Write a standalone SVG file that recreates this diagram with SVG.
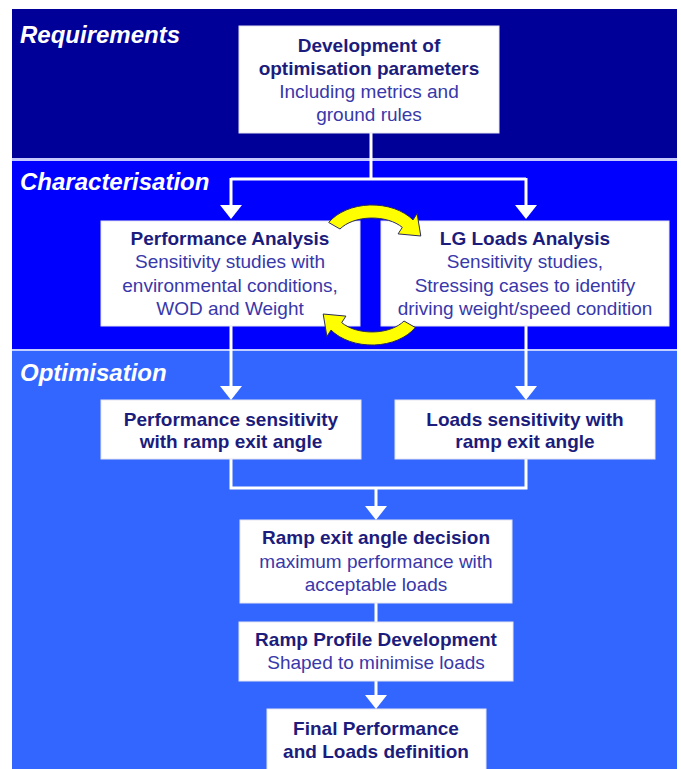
<svg xmlns="http://www.w3.org/2000/svg" width="681" height="769" viewBox="0 0 681 769">
<style>
.box{fill:#ffffff;stroke:#e4e4f0;stroke-width:1}
.t{font-family:"Liberation Sans",Arial,sans-serif;font-size:19px;text-anchor:middle}
.b{font-weight:bold;fill:#1c1c7c}
.r{fill:#3838aa}
.hd{font-family:"Liberation Sans",Arial,sans-serif;font-size:24px;font-weight:bold;font-style:italic;fill:#ffffff}
.ln{fill:none;stroke:#ffffff;stroke-width:3}
.ah{fill:#ffffff}
.yl{fill:#ffff00;stroke:#2a2a60;stroke-width:1}
</style>
<rect x="0" y="0" width="681" height="769" fill="#ffffff"/>
<g id="bands">
<rect x="12" y="9" width="665" height="149" fill="#000099"/>
<rect x="12" y="158" width="665" height="3" fill="#c4c8ff"/>
<rect x="12" y="161" width="665" height="188" fill="#0000ff"/>
<rect x="12" y="349" width="665" height="2" fill="#c4d0ff"/>
<rect x="12" y="351" width="665" height="418" fill="#3366ff"/>
<text class="hd" x="20" y="43">Requirements</text>
<text class="hd" x="20" y="190">Characterisation</text>
<text class="hd" x="20" y="381">Optimisation</text>
</g>
<g id="connectors">
<path class="ln" d="M371 133 V179 M231 179 H526 M231 178 V206 M526 178 V206"/>
<polygon class="ah" points="231,219 220,205 242,205"/>
<polygon class="ah" points="526,219 515,205 537,205"/>
<path class="ln" d="M231 326 V387 M526 326 V387"/>
<polygon class="ah" points="231,400 220,386 242,386"/>
<polygon class="ah" points="526,400 515,386 537,386"/>
<path class="ln" d="M231 459 V488 H526 V459 M376 488 V507"/>
<polygon class="ah" points="376,520 365,506 387,506"/>
<path class="ln" d="M376 603 V622 M376 681 V696"/>
<polygon class="ah" points="376,709 365,695 387,695"/>
</g>
<g id="n-top">
<rect class="box" x="239" y="26" width="260" height="107"/>
<text class="t b" x="369" y="52">Development of</text>
<text class="t b" x="369" y="75">optimisation parameters</text>
<text class="t r" x="369" y="98">Including metrics and</text>
<text class="t r" x="369" y="121">ground rules</text>
</g>
<g id="n-perf-analysis">
<rect class="box" x="101" y="221" width="259" height="105"/>
<text class="t b" x="230" y="245">Performance Analysis</text>
<text class="t r" x="230" y="268">Sensitivity studies with</text>
<text class="t r" x="230" y="292">environmental conditions,</text>
<text class="t r" x="230" y="315">WOD and Weight</text>
</g>
<g id="n-lg-loads">
<rect class="box" x="381" y="221" width="288" height="105"/>
<text class="t b" x="525" y="245">LG Loads Analysis</text>
<text class="t r" x="525" y="268">Sensitivity studies,</text>
<text class="t r" x="525" y="292">Stressing cases to identify</text>
<text class="t r" x="525" y="315">driving weight/speed condition</text>
</g>
<g id="n-cycle">
<path class="yl" d="M328.7 222.5 A50 35 0 0 1 413 219.9 L417.1 213.5 L420.8 236 L398.1 233.9 L402.3 227.4 A37 22 0 0 0 340 229 Z"/>
<path class="yl" transform="rotate(180 372 275)" d="M328.7 222.5 A50 35 0 0 1 413 219.9 L417.1 213.5 L420.8 236 L398.1 233.9 L402.3 227.4 A37 22 0 0 0 340 229 Z"/>
</g>
<g id="n-perf-sens">
<rect class="box" x="101" y="400" width="260" height="59"/>
<text class="t b" x="231" y="426">Performance sensitivity</text>
<text class="t b" x="231" y="448">with ramp exit angle</text>
</g>
<g id="n-loads-sens">
<rect class="box" x="395" y="400" width="260" height="59"/>
<text class="t b" x="525" y="426">Loads sensitivity with</text>
<text class="t b" x="525" y="448">ramp exit angle</text>
</g>
<g id="n-ramp-decision">
<rect class="box" x="240" y="520" width="272" height="83"/>
<text class="t b" x="376" y="544">Ramp exit angle decision</text>
<text class="t r" x="376" y="568">maximum performance with</text>
<text class="t r" x="376" y="591">acceptable loads</text>
</g>
<g id="n-ramp-profile">
<rect class="box" x="239" y="622" width="274" height="59"/>
<text class="t b" x="376" y="646">Ramp Profile Development</text>
<text class="t r" x="376" y="669">Shaped to minimise loads</text>
</g>
<g id="n-final">
<rect class="box" x="267" y="709" width="219" height="64"/>
<text class="t b" x="376" y="735">Final Performance</text>
<text class="t b" x="376" y="758">and Loads definition</text>
</g>
</svg>
